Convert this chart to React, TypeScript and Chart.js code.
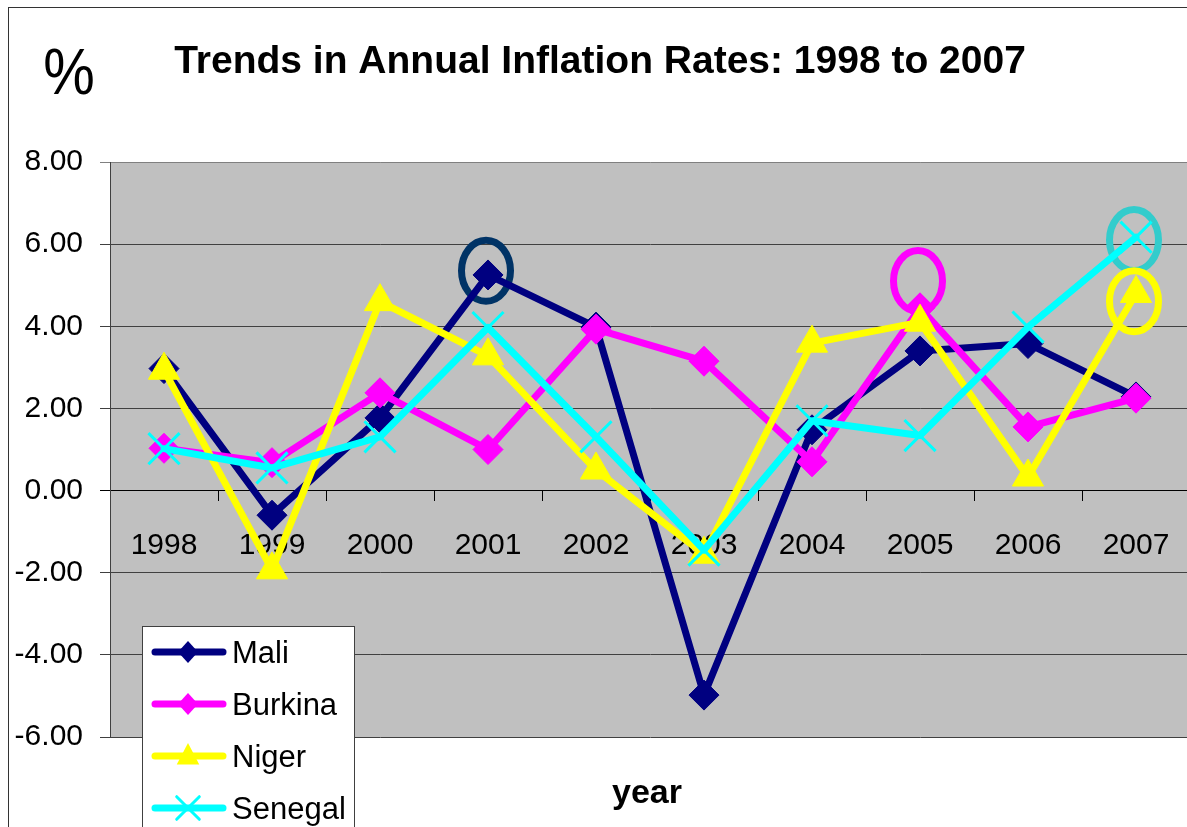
import React, { useEffect, useRef } from 'react';
import { Chart, registerables } from 'chart.js';

Chart.register(...registerables);

const years = ['1998', '1999', '2000', '2001', '2002', '2003', '2004', '2005', '2006', '2007'];
const mali = [2.97, -0.6, 1.77, 5.25, 3.98, -4.98, 1.48, 3.4, 3.58, 2.28];
const burkina = [1.03, 0.68, 2.38, 1.0, 3.93, 3.15, 0.7, 4.45, 1.55, 2.25];
const niger = [2.93, -1.93, 4.6, 3.28, 0.5, -1.55, 3.59, 4.1, 0.33, 4.8];
const senegal = [1.02, 0.55, 1.31, 3.97, 1.31, -1.45, 1.7, 1.34, 3.98, 6.17];

const seriesNames = ['Mali', 'Burkina', 'Niger', 'Senegal'];
const seriesColors = ['#000080', '#FF00FF', '#FFFF00', '#00FFFF'];
const seriesStyles = ['rectRot', 'rectRot', 'triangle', 'crossRot'];

const yMin = -6;
const yMax = 8;
const yStep = 2;

const highlightYears = ['2001', '2005', '2007', '2007'];
const highlightValues = [5.35, 5.1, 6.1, 4.61];
const highlightColors = ['#003366', '#FF00FF', '#33CCCC', '#FFFF00'];

const titleText = 'Trends in Annual Inflation Rates: 1998 to 2007';
const unitText = '%';
const xTitleText = 'year';

const FONT = "'Liberation Sans', Arial, Helvetica, sans-serif";

function drawMarker(ctx: CanvasRenderingContext2D, style: string, x: number, y: number, r: number, color: string) {
  ctx.save();
  ctx.fillStyle = color;
  ctx.strokeStyle = color;
  ctx.beginPath();
  if (style === 'rectRot') {
    ctx.moveTo(x - r, y);
    ctx.lineTo(x, y - r * 1.1);
    ctx.lineTo(x + r, y);
    ctx.lineTo(x, y + r * 1.1);
    ctx.closePath();
    ctx.fill();
  } else if (style === 'triangle') {
    ctx.moveTo(x, y - r);
    ctx.lineTo(x + 0.866 * r, y + 0.5 * r + 2);
    ctx.lineTo(x - 0.866 * r, y + 0.5 * r + 2);
    ctx.closePath();
    ctx.fill();
  } else {
    const o = r * Math.SQRT1_2;
    ctx.lineWidth = 3;
    ctx.moveTo(x - o, y - o);
    ctx.lineTo(x + o, y + o);
    ctx.moveTo(x + o, y - o);
    ctx.lineTo(x - o, y + o);
    ctx.stroke();
  }
  ctx.restore();
}

const decorPlugin = {
  id: 'decor',
  beforeDraw(chart: any) {
    const { ctx, chartArea: a } = chart;
    ctx.save();
    ctx.fillStyle = '#ffffff';
    ctx.fillRect(0, 0, chart.width, chart.height);
    ctx.strokeStyle = '#333333';
    ctx.lineWidth = 1;
    ctx.strokeRect(8.5, 7.5, chart.width + 20, chart.height + 20);
    ctx.fillStyle = '#C0C0C0';
    ctx.fillRect(a.left, a.top, a.right - a.left, a.bottom - a.top);
    ctx.fillStyle = '#000000';
    ctx.textAlign = 'center';
    ctx.textBaseline = 'alphabetic';
    ctx.font = `bold 39px ${FONT}`;
    ctx.fillText(titleText, 600, 73);
    ctx.save();
    ctx.translate(69, 94);
    ctx.scale(1, 1.12);
    ctx.font = `58px ${FONT}`;
    ctx.fillText(unitText, 0, 0);
    ctx.restore();
    ctx.font = `bold 34px ${FONT}`;
    ctx.fillText(xTitleText, 647, 803);
    ctx.restore();
  },
  beforeDatasetsDraw(chart: any) {
    const { ctx } = chart;
    const xs = chart.scales.x;
    const ys = chart.scales.y;
    ctx.save();
    ctx.lineWidth = 7;
    highlightYears.forEach((yr, i) => {
      const px = xs.getPixelForValue(years.indexOf(yr));
      const py = ys.getPixelForValue(highlightValues[i]);
      ctx.strokeStyle = highlightColors[i];
      ctx.beginPath();
      ctx.ellipse(px - 2, py, 24.5, 30.5, 0, 0, Math.PI * 2);
      ctx.stroke();
    });
    ctx.restore();
  },
  afterDraw(chart: any) {
    const { ctx } = chart;
    ctx.save();
    const bx = 142.5;
    const by = 626.5;
    ctx.fillStyle = '#ffffff';
    ctx.fillRect(bx, by, 212, 260);
    ctx.strokeStyle = '#404040';
    ctx.lineWidth = 1;
    ctx.strokeRect(bx, by, 212, 260);
    const markerR = [10, 10, 13, 16];
    seriesNames.forEach((name, i) => {
      const y = 652 + i * 52;
      ctx.strokeStyle = seriesColors[i];
      ctx.lineWidth = 7;
      ctx.lineCap = 'round';
      ctx.beginPath();
      ctx.moveTo(155, y);
      ctx.lineTo(223, y);
      ctx.stroke();
      drawMarker(ctx, seriesStyles[i], 188, y, markerR[i], seriesColors[i]);
      ctx.fillStyle = '#000000';
      ctx.font = `31px ${FONT}`;
      ctx.textAlign = 'left';
      ctx.textBaseline = 'alphabetic';
      ctx.fillText(name, 232, y + 11);
    });
    ctx.restore();
  },
};

export default function App() {
  const ref = useRef<HTMLCanvasElement>(null);
  useEffect(() => {
    const values = [mali, burkina, niger, senegal];
    const radii = [15, 15, 18, 22];
    const chart = new Chart(ref.current as HTMLCanvasElement, {
      type: 'line',
      data: {
        labels: years,
        datasets: seriesNames.map((name, i) => ({
          label: name,
          data: values[i],
          borderColor: seriesColors[i],
          backgroundColor: seriesColors[i],
          borderWidth: 7,
          borderJoinStyle: 'round',
          borderCapStyle: 'round',
          pointStyle: seriesStyles[i],
          pointRadius: radii[i],
          pointBorderWidth: i === 3 ? 3 : 1,
          pointBackgroundColor: seriesColors[i],
          pointBorderColor: seriesColors[i],
          tension: 0,
          fill: false,
          order: 4 - i,
          clip: false,
        })) as any,
      },
      options: {
        animation: false,
        responsive: false,
        devicePixelRatio: 1,
        events: [],
        layout: { padding: { top: 162, left: 0, right: 11, bottom: 113 } },
        plugins: {
          legend: { display: false },
          tooltip: { enabled: false },
          title: { display: false },
        },
        scales: {
          x: {
            type: 'category',
            position: { y: 0 } as any,
            offset: true,
            grid: {
              display: true,
              drawOnChartArea: false,
              drawTicks: true,
              tickLength: 10,
              color: '#000000',
              offset: true,
            },
            border: { display: true, color: '#000000', width: 1 },
            ticks: {
              color: '#000000',
              font: { size: 30, family: FONT },
              padding: 27,
              maxRotation: 0,
              autoSkip: false,
            },
            afterFit: (s: any) => {
              s.height = 0;
            },
          },
          y: {
            min: yMin,
            max: yMax,
            ticks: {
              stepSize: yStep,
              callback: (v: any) => Number(v).toFixed(2),
              color: '#000000',
              font: { size: 30, family: FONT },
              padding: 17,
            },
            grid: {
              color: (c: any) => (c.tick && c.tick.value === yMax ? '#808080' : c.tick && c.tick.value === 0 ? '#000000' : '#404040'),
              tickLength: 10,
              drawTicks: true,
            },
            border: { display: true, color: '#404040', width: 1 },
            afterFit: (s: any) => {
              s.width = 110;
            },
          },
        },
      } as any,
      plugins: [decorPlugin],
    });
    return () => chart.destroy();
  }, []);
  return (
    <div style={{ position: 'fixed', left: 0, top: 0, width: 1187, height: 827, overflow: 'hidden', background: '#fff' }}>
      <canvas ref={ref} width={1215} height={850} style={{ display: 'block', width: 1215, height: 850 }} />
    </div>
  );
}
